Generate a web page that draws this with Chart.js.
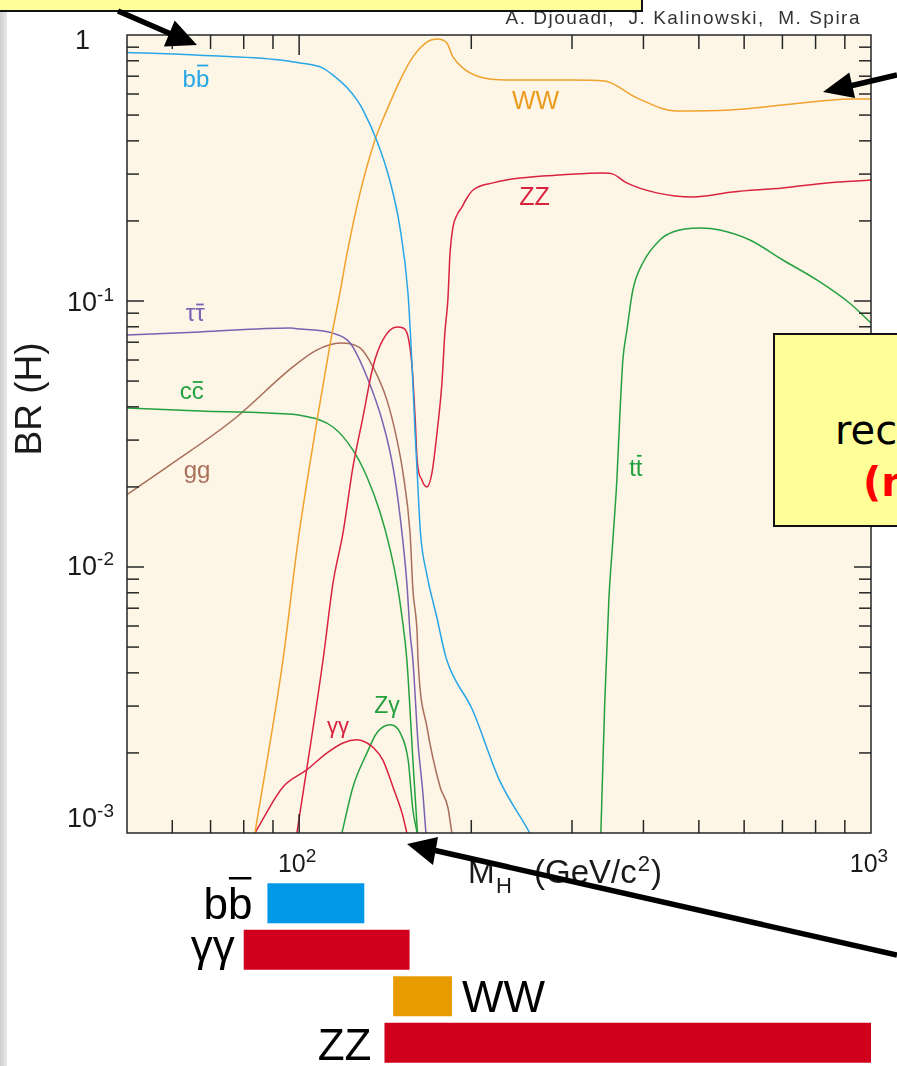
<!DOCTYPE html>
<html>
<head>
<meta charset="utf-8">
<title>BR (H)</title>
<script src="https://cdn.jsdelivr.net/npm/chart.js@4.4.1/dist/chart.umd.min.js"></script>
<style>
  html, body { margin: 0; padding: 0; background: #ffffff; overflow: hidden; }
  body { width: 897px; height: 1066px; position: relative; }
  #strip { position: absolute; left: 0; top: 0; width: 7px; height: 1066px;
           background: linear-gradient(to right, #cfcfcf, #e9e9e9); }
  #main { position: absolute; left: 0; top: 0; }
  #ranges { position: absolute; left: 0; top: 860px; }
  #authors { position: absolute; right: 36px; top: 7px; font: 19px "Liberation Sans", Arial, sans-serif;
             letter-spacing: 1.5px; color: #333; white-space: pre; }
  #noteTop { position: absolute; left: -4px; top: -4px; width: 643px; height: 12px;
             background: #ffff99; border: 2px solid #111; }
  #noteRight { position: absolute; left: 773px; top: 333px; width: 140px; height: 190px;
               background: #ffff99; border: 2px solid #111; overflow: hidden; }
  #noteRight span { position: absolute; white-space: pre; font-family: "DejaVu Sans", sans-serif; font-size: 40px; }
  #arrows { position: absolute; left: 0; top: 0; }
</style>
</head>
<body>
<div id="strip"></div>
<canvas id="main" width="897" height="1066"></canvas>
<canvas id="ranges" width="897" height="206"></canvas>
<div id="authors">A. Djouadi,  J. Kalinowski,  M. Spira</div>
<div id="noteTop"></div>
<div id="noteRight">
  <span style="left:60px; top:72px; color:#000;">rec</span>
  <span style="left:88px; top:124px; color:#ff0000; font-weight:bold;">(n</span>
</div>
<svg id="arrows" width="897" height="1066" viewBox="0 0 897 1066">
  <g stroke="#000" stroke-width="5.5" fill="none">
    <line x1="118" y1="11" x2="171" y2="34"/>
    <line x1="897" y1="75" x2="850" y2="86"/>
    <line x1="897" y1="955" x2="433" y2="850"/>
  </g>
  <g fill="#000">
    <polygon points="197,45 174.7,20.6 163.9,46.4"/>
    <polygon points="823,92 855.1,98 849.3,72.6"/>
    <polygon points="407,844 438,837 433,865"/>
  </g>
</svg>

<script>
// ---- Branching ratios of the SM Higgs boson vs. its mass (GeV/c^2) ----
const massBB = [50, 67, 92.6, 100.3, 105.7, 110, 114.6, 121, 126.2, 129.3, 137, 144, 150, 155, 157.6, 159.5, 161, 163, 167, 174, 181, 201, 224, 253, 264];
const brBB   = [0.86, 0.84, 0.806, 0.785, 0.771, 0.751, 0.707, 0.637, 0.57, 0.523, 0.396, 0.285, 0.19, 0.107, 0.0565, 0.0319, 0.0218, 0.0134, 0.0095, 0.0065, 0.0045, 0.0029, 0.00158, 0.001, 0.00083];

const massWW = [83.7, 93.7, 99.6, 107.5, 113.2, 118, 121.2, 127.8, 135.7, 142.4, 150.2, 158.1, 167.3, 174.2, 181.3, 185.8, 193.4, 207.2, 230.8, 301, 342, 389.5, 457, 567, 701, 929, 1000];
const brWW   = [0.001, 0.00447, 0.0126, 0.0357, 0.0684, 0.109, 0.15, 0.255, 0.403, 0.523, 0.677, 0.827, 0.941, 0.966, 0.933, 0.827, 0.751, 0.695, 0.677, 0.677, 0.671, 0.58, 0.518, 0.523, 0.545, 0.575, 0.575];

const massZZ = [99.1, 110.1, 114.6, 119.3, 124.2, 129.3, 134.6, 140.1, 148.3, 151.9, 155.1, 157.6, 159.5, 160.8, 164, 167.3, 170.7, 174.2, 177.7, 179.8, 182, 183.6, 185.8, 188.8, 192.6, 196.5, 201.4, 218.3, 243.3, 289, 340, 354, 374, 422, 488, 573, 701, 837, 1000];
const brZZ   = [0.001, 0.00447, 0.0087, 0.0134, 0.0238, 0.0366, 0.0565, 0.0714, 0.0798, 0.0792, 0.0732, 0.0565, 0.0366, 0.0253, 0.0212, 0.02, 0.0226, 0.0319, 0.0492, 0.0758, 0.101, 0.1515, 0.19, 0.2105, 0.2256, 0.2439, 0.2614, 0.278, 0.29, 0.298, 0.303, 0.3, 0.278, 0.255, 0.246, 0.257, 0.266, 0.278, 0.285];

const massTauTau = [50, 67.1, 96.4, 100.3, 114.6, 122.8, 131.4, 140.1, 145.9, 150.2, 154.3, 156.3, 158.1, 161.4, 164.6, 166.6, 168];
const brTauTau   = [0.0745, 0.0765, 0.0791, 0.0785, 0.0757, 0.0695, 0.0518, 0.0348, 0.0238, 0.0154, 0.0087, 0.00565, 0.00447, 0.00218, 0.00141, 0.001, 0.0008];

const massCC = [50, 67.1, 91.5, 100.3, 114.6, 124.2, 131.4, 138.6, 144.3, 148.3, 151.3, 154.3, 158.1, 160.8, 161.4];
const brCC   = [0.0396, 0.0386, 0.0378, 0.0372, 0.0336, 0.0275, 0.0218, 0.016, 0.0116, 0.0087, 0.0065, 0.00447, 0.00188, 0.00105, 0.00094];

const massGG = [50, 58.8, 76.6, 97.5, 107.5, 118, 127.8, 134.6, 142.4, 148.3, 151.9, 156.3, 158.1, 160.8, 161.4, 167.3, 176.4, 182, 185, 187];
const brGG   = [0.0187, 0.0238, 0.0357, 0.0565, 0.0655, 0.0695, 0.0666, 0.0565, 0.0424, 0.03, 0.0226, 0.0134, 0.0082, 0.00565, 0.00447, 0.0025, 0.00149, 0.00125, 0.001, 0.0009];

const massGamGam = [83.7, 93.7, 103.2, 111.9, 119.3, 126.2, 131.4, 134.6, 140.1, 145.9, 151.3, 154.3, 156];
const brGamGam   = [0.001, 0.00149, 0.00173, 0.002, 0.00218, 0.00224, 0.00218, 0.0021, 0.00188, 0.00149, 0.00119, 0.001, 0.0009];

const massZGam = [118.8, 124.2, 131.4, 136.8, 144.3, 150.2, 155.1, 158.1, 160.8, 162];
const brZGam   = [0.001, 0.00149, 0.002, 0.00238, 0.00255, 0.00238, 0.00188, 0.00122, 0.001, 0.0009];

const massTT = [337, 342.4, 348, 353.7, 359.4, 363.9, 368.2, 374.3, 383.3, 399, 427.4, 450.3, 502, 544.3, 614.1, 701.3, 804, 918, 1000];
const brTT   = [0.001, 0.00316, 0.00752, 0.01264, 0.0212, 0.0379, 0.06, 0.0778, 0.11, 0.139, 0.1696, 0.1816, 0.188, 0.185, 0.1696, 0.1426, 0.12, 0.0981, 0.0827];

// axis ticks
const xMinorTicks = [60, 70, 80, 90, 200, 300, 400, 500, 600, 700, 800, 900];
const xMajorTicks = [100];
const xTickLabels = [{ value: 100, base: '10', exp: '2' }, { value: 1000, base: '10', exp: '3' }];
const yMinorTicks = [0.002, 0.003, 0.004, 0.005, 0.006, 0.007, 0.008, 0.009,
                     0.02, 0.03, 0.04, 0.05, 0.06, 0.07, 0.08, 0.09,
                     0.2, 0.3, 0.4, 0.5, 0.6, 0.7, 0.8, 0.9];
const yMajorTicks = [0.01, 0.1];
const yTickLabels = [{ value: 1, base: '1', exp: '' }, { value: 0.1, base: '10', exp: '-1' },
                     { value: 0.01, base: '10', exp: '-2' }, { value: 0.001, base: '10', exp: '-3' }];

// mass windows of the discovery channels
const rangeNames = ['bb', 'γγ', 'WW', 'ZZ'];
const rangeLow   = [88, 80, 146, 141];
const rangeHigh  = [130, 156, 185, 1000];

// ---- styling ----
const FONT = '"Liberation Sans", Arial, Helvetica, sans-serif';
const C_BLUE = '#27a6e6', C_ORANGE = '#f0a22c', C_RED = '#d9223f', C_PURPLE = '#7a62b0',
      C_GREEN = '#25a03f', C_BROWN = '#a86e5a';
const AXIS = '#262626';

const curves = [
  { m: massBB, br: brBB, color: C_BLUE },
  { m: massWW, br: brWW, color: C_ORANGE },
  { m: massZZ, br: brZZ, color: C_RED },
  { m: massTauTau, br: brTauTau, color: C_PURPLE },
  { m: massCC, br: brCC, color: C_GREEN },
  { m: massGG, br: brGG, color: C_BROWN },
  { m: massGamGam, br: brGamGam, color: C_RED },
  { m: massZGam, br: brZGam, color: C_GREEN },
  { m: massTT, br: brTT, color: C_GREEN }
];

// channel names written next to the curves (anchored in data coordinates)
const curveNames = [
  { text: 'bb', bar: true, m: 66, br: 0.689, color: C_BLUE, size: 24 },
  { text: 'WW', m: 259, br: 0.569, color: '#eb9a1c', size: 25 },
  { text: 'ZZ', m: 258, br: 0.248, color: C_RED, size: 25 },
  { text: 'ττ', bar: true, m: 65.8, br: 0.0886, color: C_PURPLE, size: 24 },
  { text: 'cc', bar: true, m: 64.9, br: 0.0453, color: C_GREEN, size: 24 },
  { text: 'gg', m: 66.3, br: 0.0224, color: C_BROWN, size: 24 },
  { text: 'tt', bar: true, m: 388, br: 0.0236, color: C_GREEN, size: 24 },
  { text: 'γγ', m: 116.9, br: 0.00244, color: C_RED, size: 22 },
  { text: 'Zγ', m: 142.4, br: 0.00298, color: C_GREEN, size: 23 }
];

function drawLabel(ctx, text, cx, cy, size, color, bar, gap, lw) {
  ctx.save();
  ctx.font = size + 'px ' + FONT;
  ctx.fillStyle = color;
  ctx.textAlign = 'left';
  ctx.textBaseline = 'alphabetic';
  const mt = ctx.measureText(text);
  const w = mt.width;
  const base = cy + (mt.actualBoundingBoxAscent - mt.actualBoundingBoxDescent) / 2;
  const x0 = cx - w / 2;
  ctx.fillText(text, x0, base);
  if (bar) {
    const last = text.slice(-1);
    const ml = ctx.measureText(last);
    const yb = base - ml.actualBoundingBoxAscent - (gap || 4);
    ctx.strokeStyle = color;
    ctx.lineWidth = lw || 1.8;
    ctx.beginPath();
    ctx.moveTo(x0 + w - ml.width + 1, yb);
    ctx.lineTo(x0 + w - 1, yb);
    ctx.stroke();
  }
  ctx.restore();
}

function drawPow(ctx, base, exp, x, baseline, size, supSize, rise, align) {
  ctx.font = size + 'px ' + FONT;
  const wb = ctx.measureText(base).width;
  ctx.font = supSize + 'px ' + FONT;
  const we = exp ? ctx.measureText(exp).width : 0;
  const total = wb + we;
  const x0 = align === 'right' ? x - total : x - total / 2;
  ctx.font = size + 'px ' + FONT;
  ctx.fillText(base, x0, baseline);
  if (exp) {
    ctx.font = supSize + 'px ' + FONT;
    ctx.fillText(exp, x0 + wb, baseline - rise);
  }
}

const framePlugin = {
  id: 'frame',
  beforeDatasetsDraw(chart) {
    const { ctx, chartArea: a } = chart;
    ctx.save();
    ctx.fillStyle = '#fdf6e7';
    ctx.fillRect(a.left, a.top, a.right - a.left, a.bottom - a.top);
    ctx.restore();
  },
  afterDatasetsDraw(chart) {
    const { ctx, chartArea: a, scales } = chart;
    const xs = scales.x, ys = scales.y;
    ctx.save();
    ctx.strokeStyle = AXIS;
    ctx.lineWidth = 1.5;
    ctx.strokeRect(a.left, a.top, a.right - a.left, a.bottom - a.top);

    const tick = (x1, y1, x2, y2) => { ctx.beginPath(); ctx.moveTo(x1, y1); ctx.lineTo(x2, y2); ctx.stroke(); };
    xMinorTicks.forEach(v => { const p = xs.getPixelForValue(v); tick(p, a.bottom, p, a.bottom - 13); tick(p, a.top, p, a.top + 14); });
    xMajorTicks.forEach(v => { const p = xs.getPixelForValue(v); tick(p, a.bottom, p, a.bottom - 19); tick(p, a.top, p, a.top + 20); });
    yMinorTicks.forEach(v => { const p = ys.getPixelForValue(v); tick(a.left, p, a.left + 12, p); tick(a.right, p, a.right - 12, p); });
    yMajorTicks.forEach(v => { const p = ys.getPixelForValue(v); tick(a.left, p, a.left + 17, p); tick(a.right, p, a.right - 17, p); });

    // tick labels
    ctx.fillStyle = '#1a1a1a';
    ctx.textAlign = 'left';
    ctx.textBaseline = 'alphabetic';
    const yShift = [14, 10, 8, -6];
    yTickLabels.forEach((t, i) => {
      const p = ys.getPixelForValue(t.value);
      if (t.exp) drawPow(ctx, t.base, t.exp, 114, p + yShift[i], 27, 19, 10, 'right');
      else drawPow(ctx, t.base, '', 90, p + yShift[i], 27, 19, 10, 'right');
    });
    xTickLabels.forEach(t => {
      const p = xs.getPixelForValue(t.value);
      drawPow(ctx, t.base, t.exp, p - 2, 872, 25, 19, 10, 'center');
    });

    // axis titles
    ctx.font = '32px ' + FONT;
    ctx.fillText('M', 468, 883);
    ctx.font = '22px ' + FONT;
    ctx.fillText('H', 496, 893);
    ctx.font = '33px ' + FONT;
    ctx.fillText('(GeV/c', 534, 883);
    let w = ctx.measureText('(GeV/c').width;
    ctx.font = '22px ' + FONT;
    ctx.fillText('2', 534 + w + 1, 871);
    const w2 = ctx.measureText('2').width;
    ctx.font = '33px ' + FONT;
    ctx.fillText(')', 534 + w + w2 + 2, 883);

    ctx.save();
    ctx.translate(31, 399);
    ctx.rotate(-Math.PI / 2);
    ctx.font = '37px ' + FONT;
    ctx.textAlign = 'center';
    ctx.textBaseline = 'middle';
    ctx.fillText('BR (H)', 0, 0);
    ctx.restore();

    // channel names
    curveNames.forEach(n => {
      drawLabel(ctx, n.text, xs.getPixelForValue(n.m), ys.getPixelForValue(n.br), n.size, n.color, n.bar, 4, 1.8);
    });
    ctx.restore();
  }
};

new Chart(document.getElementById('main'), {
  type: 'line',
  data: {
    datasets: curves.map(c => ({
      data: c.m.map((m, i) => ({ x: m, y: c.br[i] })),
      borderColor: c.color,
      borderWidth: 1.5,
      pointRadius: 0,
      fill: false,
      cubicInterpolationMode: 'monotone'
    }))
  },
  options: {
    responsive: false,
    animation: false,
    devicePixelRatio: 1,
    layout: { padding: { left: 127, top: 35, right: 26, bottom: 233 } },
    plugins: { legend: { display: false }, tooltip: { enabled: false } },
    scales: {
      x: { type: 'logarithmic', min: 50, max: 1000, display: false },
      y: { type: 'logarithmic', min: 0.001, max: 1, display: false }
    }
  },
  plugins: [framePlugin]
});

// ---- mass windows below the axis ----
const rangeColors = ['#0099e8', '#d0001c', '#e89b00', '#d0001c'];
const rangeNameStyle = [
  { side: 'left', gap: 15, dy: 16, bar: true },
  { side: 'left', gap: 9, dy: 11 },
  { side: 'right', gap: 10, dy: 16 },
  { side: 'left', gap: 13, dy: 17 }
];

const rangeLabelPlugin = {
  id: 'rangeLabels',
  afterDatasetsDraw(chart) {
    const { ctx, scales } = chart;
    const meta = chart.getDatasetMeta(0);
    ctx.save();
    ctx.fillStyle = '#000';
    ctx.font = '44px ' + FONT;
    ctx.textBaseline = 'alphabetic';
    rangeNames.forEach((name, i) => {
      const el = meta.data[i];
      const st = rangeNameStyle[i];
      const lo = scales.x.getPixelForValue(rangeLow[i]);
      const hi = scales.x.getPixelForValue(rangeHigh[i]);
      const w = ctx.measureText(name).width;
      const x0 = st.side === 'left' ? lo - st.gap - w : hi + st.gap;
      const base = el.y + st.dy;
      ctx.textAlign = 'left';
      ctx.fillText(name, x0, base);
      if (st.bar) {
        const ml = ctx.measureText(name.slice(-1));
        const yb = base - ml.actualBoundingBoxAscent - 9;
        ctx.strokeStyle = '#000';
        ctx.lineWidth = 2.5;
        ctx.beginPath();
        ctx.moveTo(x0 + w - ml.width + 1, yb);
        ctx.lineTo(x0 + w - 1, yb);
        ctx.stroke();
      }
    });
    ctx.restore();
  }
};

new Chart(document.getElementById('ranges'), {
  type: 'bar',
  data: {
    labels: rangeNames,
    datasets: [{
      data: rangeLow.map((lo, i) => [lo, rangeHigh[i]]),
      backgroundColor: rangeColors,
      borderWidth: 0,
      borderSkipped: false,
      barPercentage: 0.86,
      categoryPercentage: 1
    }]
  },
  options: {
    indexAxis: 'y',
    responsive: false,
    animation: false,
    devicePixelRatio: 1,
    layout: { padding: { left: 127, top: 20, right: 26, bottom: 0 } },
    plugins: { legend: { display: false }, tooltip: { enabled: false } },
    scales: {
      x: { type: 'logarithmic', min: 50, max: 1000, display: false },
      y: { type: 'category', display: false }
    }
  },
  plugins: [rangeLabelPlugin]
});
</script>
</body>
</html>
